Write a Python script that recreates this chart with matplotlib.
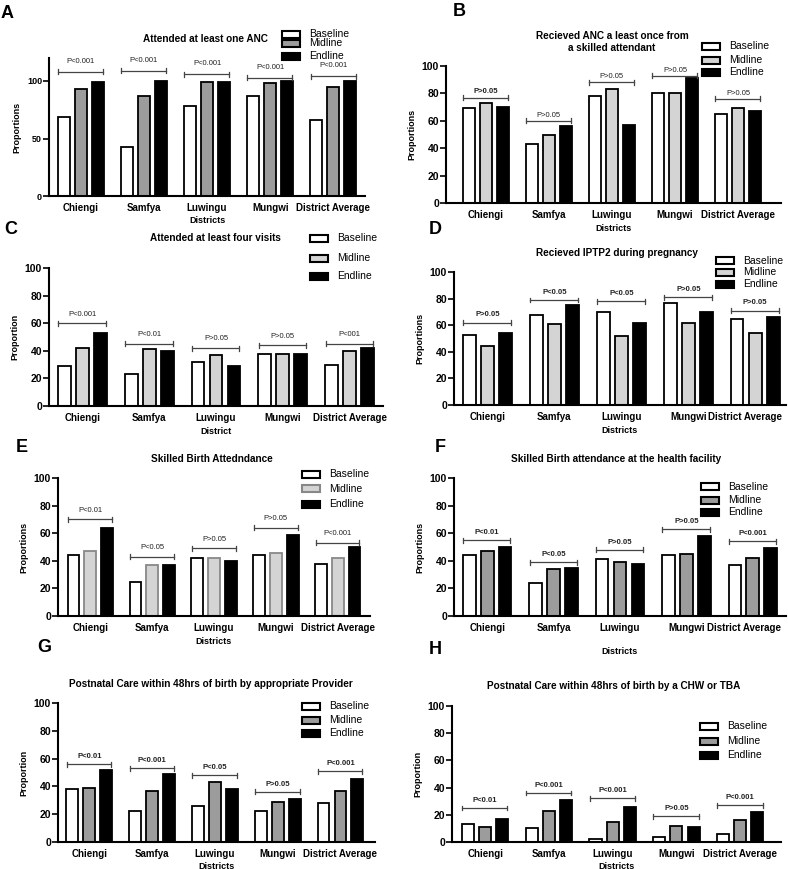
import numpy as np
import matplotlib.pyplot as plt
from matplotlib.patches import Rectangle

plt.rcParams['font.family'] = ['Liberation Sans', 'DejaVu Sans']

# data ########################################################################
districts = ['Chiengi', 'Samfya', 'Luwingu', 'Mungwi', 'District Average']
rounds = ['Baseline', 'Midline', 'Endline']

# A - attended at least one ANC
anc1_base = [69, 43, 78, 87, 66]
anc1_mid = [93, 87, 99, 98, 95]
anc1_end = [99, 100, 99, 100, 100]
anc1_p = ['P<0.001', 'P<0.001', 'P<0.001', 'P<0.001', 'P<0.001']
anc1_ph = [108, 109, 106, 103, 104]

# B - ANC from skilled attendant
skill_base = [69, 43, 78, 80, 65]
skill_mid = [73, 50, 83, 80, 69]
skill_end = [70, 56, 57, 91, 67]
skill_p = ['P>0.05', 'P>0.05', 'P>0.05', 'P>0.05', 'P>0.05']
skill_ph = [77, 60, 88, 93, 76]

# C - four visits
anc4_base = [29, 23, 32, 38, 30]
anc4_mid = [42, 41, 37, 38, 40]
anc4_end = [53, 40, 29, 38, 42]
anc4_p = ['P<0.001', 'P<0.01', 'P>0.05', 'P>0.05', 'P<001']
anc4_ph = [60, 45, 42, 44, 45]

# D - IPTP2
iptp_base = [53, 68, 70, 77, 65]
iptp_mid = [44, 61, 52, 62, 54]
iptp_end = [54, 75, 62, 70, 66]
iptp_p = ['P>0.05', 'P<0.05', 'P<0.05', 'P>0.05', 'P>0.05']
iptp_ph = [62, 79, 78, 81, 71]

# E - skilled birth attendance
sba_base = [44, 25, 42, 44, 38]
sba_mid = [47, 37, 42, 46, 42]
sba_end = [64, 37, 40, 59, 50]
sba_p = ['P<0.01', 'P<0.05', 'P>0.05', 'P>0.05', 'P<0.001']
sba_ph = [70, 43, 49, 64, 53]

# F - skilled birth at health facility
fac_base = [44, 24, 41, 44, 37]
fac_mid = [47, 34, 39, 45, 42]
fac_end = [50, 35, 38, 58, 49]
fac_p = ['P<0.01', 'P<0.05', 'P>0.05', 'P>0.05', 'P<0.001']
fac_ph = [55, 39, 48, 63, 54]

# G - postnatal care appropriate provider
pnc_base = [38, 22, 26, 22, 28]
pnc_mid = [39, 37, 43, 29, 37]
pnc_end = [52, 49, 38, 31, 45]
pnc_p = ['P<0.01', 'P<0.001', 'P<0.05', 'P>0.05', 'P<0.001']
pnc_ph = [56, 53, 48, 36, 51]

# H - postnatal care CHW or TBA
chw_base = [13, 10, 2, 4, 6]
chw_mid = [11, 23, 15, 12, 16]
chw_end = [17, 31, 26, 11, 22]
chw_p = ['P<0.01', 'P<0.001', 'P<0.001', 'P>0.05', 'P<0.001']
chw_ph = [25, 36, 32, 19, 27]

# figure ######################################################################
W, H = 788, 869
fig = plt.figure(figsize=(W / 100, H / 100), dpi=100)
fig.patch.set_facecolor('white')

LIGHT = '#d4d4d4'
MID = '#9c9c9c'


def fx(x):
    return x / W


def fy(y):
    return 1 - y / H


def panel(letter, letter_xy, box, ymax, yticks, xlim, vals, pvals, pheights,
          pbold, title, title_xy, leg_x, leg_ys, midcol, ylab, xlab,
          mid_edge='black', bold_first=False, xlabpad=2, ytick_fs=7.5,
          poff=3, last_shift=0):
    left, top, right, bottom = box
    ax = fig.add_axes([fx(left), fy(bottom), fx(right - left), (bottom - top) / H])
    x = np.arange(len(districts))
    off = 0.27
    w = 0.19
    ax.bar(x - off, vals[0], w, color='white', edgecolor='black', linewidth=1.3)
    ax.bar(x, vals[1], w, color=midcol, edgecolor=mid_edge, linewidth=1.3)
    ax.bar(x + off, vals[2], w, color='black', edgecolor='black', linewidth=1.3)

    # brackets with p-values
    d = ymax * 0.018
    for i in range(len(districts)):
        h = pheights[i]
        x0, x1 = i - 0.36, i + 0.35
        ax.plot([x0, x1], [h, h], color='#444444', lw=0.9)
        ax.plot([x0, x0], [h - d, h + d], color='#444444', lw=0.9)
        ax.plot([x1, x1], [h - d, h + d], color='#444444', lw=0.9)
        bold = pbold or (bold_first and i == 0)
        ax.annotate(pvals[i], (i, h), xytext=(0, poff), textcoords='offset points',
                    ha='center', va='bottom', fontsize=5.5,
                    fontweight='bold' if bold else 'normal', color='#222222')

    ax.set_xlim(*xlim)
    ax.set_ylim(0, ymax)
    ax.set_yticks(yticks)
    ax.set_xticks(x)
    labels = list(districts)
    if last_shift:
        # last label moved a little left so it stays inside the figure
        labels[-1] = ''
        ax.annotate(districts[-1], (x[-1], 0), xycoords=('data', 'axes fraction'),
                    xytext=(last_shift, -5), textcoords='offset points',
                    ha='center', va='top', fontsize=7, fontweight='bold')
    ax.set_xticklabels(labels, fontsize=7, fontweight='bold')
    for t in ax.get_yticklabels():
        t.set_fontweight('bold')
        t.set_fontsize(ytick_fs)
    ax.tick_params(axis='x', length=0, pad=5)
    ax.tick_params(axis='y', length=4, width=1.2, pad=1)
    ax.spines['top'].set_visible(False)
    ax.spines['right'].set_visible(False)
    ax.spines['left'].set_linewidth(1.5)
    ax.spines['bottom'].set_linewidth(1.5)
    ax.set_ylabel(ylab, fontsize=6.5, fontweight='bold', labelpad=4)
    ax.set_xlabel(xlab, fontsize=6.5, fontweight='bold', labelpad=xlabpad)

    # title
    fig.text(fx(title_xy[0]), fy(title_xy[1]), title, ha='center', va='center',
             fontsize=7.2, fontweight='bold')
    # panel letter
    fig.text(fx(letter_xy[0]), fy(letter_xy[1]), letter, ha='left', va='center',
             fontsize=13, fontweight='bold')
    # legend
    cols = ['white', midcol, 'black']
    edges = ['black', mid_edge, 'black']
    for k in range(3):
        yc = leg_ys[k]
        fig.add_artist(Rectangle((fx(leg_x), fy(yc + 3.5)), 18 / W, 7 / H,
                                 transform=fig.transFigure, facecolor=cols[k],
                                 edgecolor=edges[k], linewidth=1.5))
        fig.text(fx(leg_x + 27), fy(yc), rounds[k], ha='left', va='center',
                 fontsize=7.5)
    return ax


y20 = [0, 20, 40, 60, 80, 100]

panel('A', (1, 13), (49, 58, 365, 196), 120, [0, 50, 100], (-0.5, 4.5),
      [anc1_base, anc1_mid, anc1_end], anc1_p, anc1_ph, False,
      'Attended at least one ANC', (205, 39), 282, [34, 43, 56], MID,
      'Proportions', 'Districts', ytick_fs=6.5, poff=5)

panel('B', (453, 12), (446, 66, 781, 203), 100, y20, (-0.63, 4.68),
      [skill_base, skill_mid, skill_end], skill_p, skill_ph, False,
      'Recieved ANC a least once from\na skilled attendant', (612, 42),
      702, [46, 60, 72], LIGHT, 'Proportions', 'Districts', bold_first=True,
      xlabpad=3, poff=1.5)

panel('C', (4, 229), (49, 268, 383, 406), 100, y20, (-0.5, 4.5),
      [anc4_base, anc4_mid, anc4_end], anc4_p, anc4_ph, False,
      'Attended at least four visits', (215, 238), 310, [238, 258, 276], LIGHT,
      'Proportion', 'District', xlabpad=3, poff=4)

panel('D', (429, 230), (454, 272, 786, 405), 100, y20, (-0.5, 4.46),
      [iptp_base, iptp_mid, iptp_end], iptp_p, iptp_ph, True,
      'Recieved IPTP2 during pregnancy', (617, 253), 716, [261, 272, 284],
      LIGHT, 'Proportions', 'Districts', xlabpad=3, poff=3, last_shift=-7)

panel('E', (16, 447), (58, 478, 370, 616), 100, y20, (-0.52, 4.52),
      [sba_base, sba_mid, sba_end], sba_p, sba_ph, False,
      'Skilled Birth Attedndance', (212, 459), 302, [474, 489, 504], LIGHT,
      'Proportions', 'Districts', mid_edge='#888888', xlabpad=3, poff=4)

panel('F', (435, 447), (454, 478, 786, 616), 100, y20, (-0.5, 4.5),
      [fac_base, fac_mid, fac_end], fac_p, fac_ph, True,
      'Skilled Birth attendance at the health facility', (616, 459), 701,
      [487, 500, 512], MID, 'Proportions', 'Districts', xlabpad=10, poff=3,
      last_shift=-6)

panel('G', (37, 648), (58, 703, 375, 842), 100, y20, (-0.5, 4.55),
      [pnc_base, pnc_mid, pnc_end], pnc_p, pnc_ph, True,
      'Postnatal Care within 48hrs of birth by appropriate Provider',
      (211, 684), 302, [706, 720, 733], MID, 'Proportion', 'Districts',
      xlabpad=2, poff=3)

panel('H', (429, 649), (452, 706, 781, 842), 100, y20, (-0.52, 4.64),
      [chw_base, chw_mid, chw_end], chw_p, chw_ph, True,
      'Postnatal Care within 48hrs of birth by a CHW or TBA', (614, 686),
      700, [726, 741, 755], MID, 'Proportion', 'Districts', xlabpad=2, poff=3)

fig.savefig('out.png', dpi=100)
